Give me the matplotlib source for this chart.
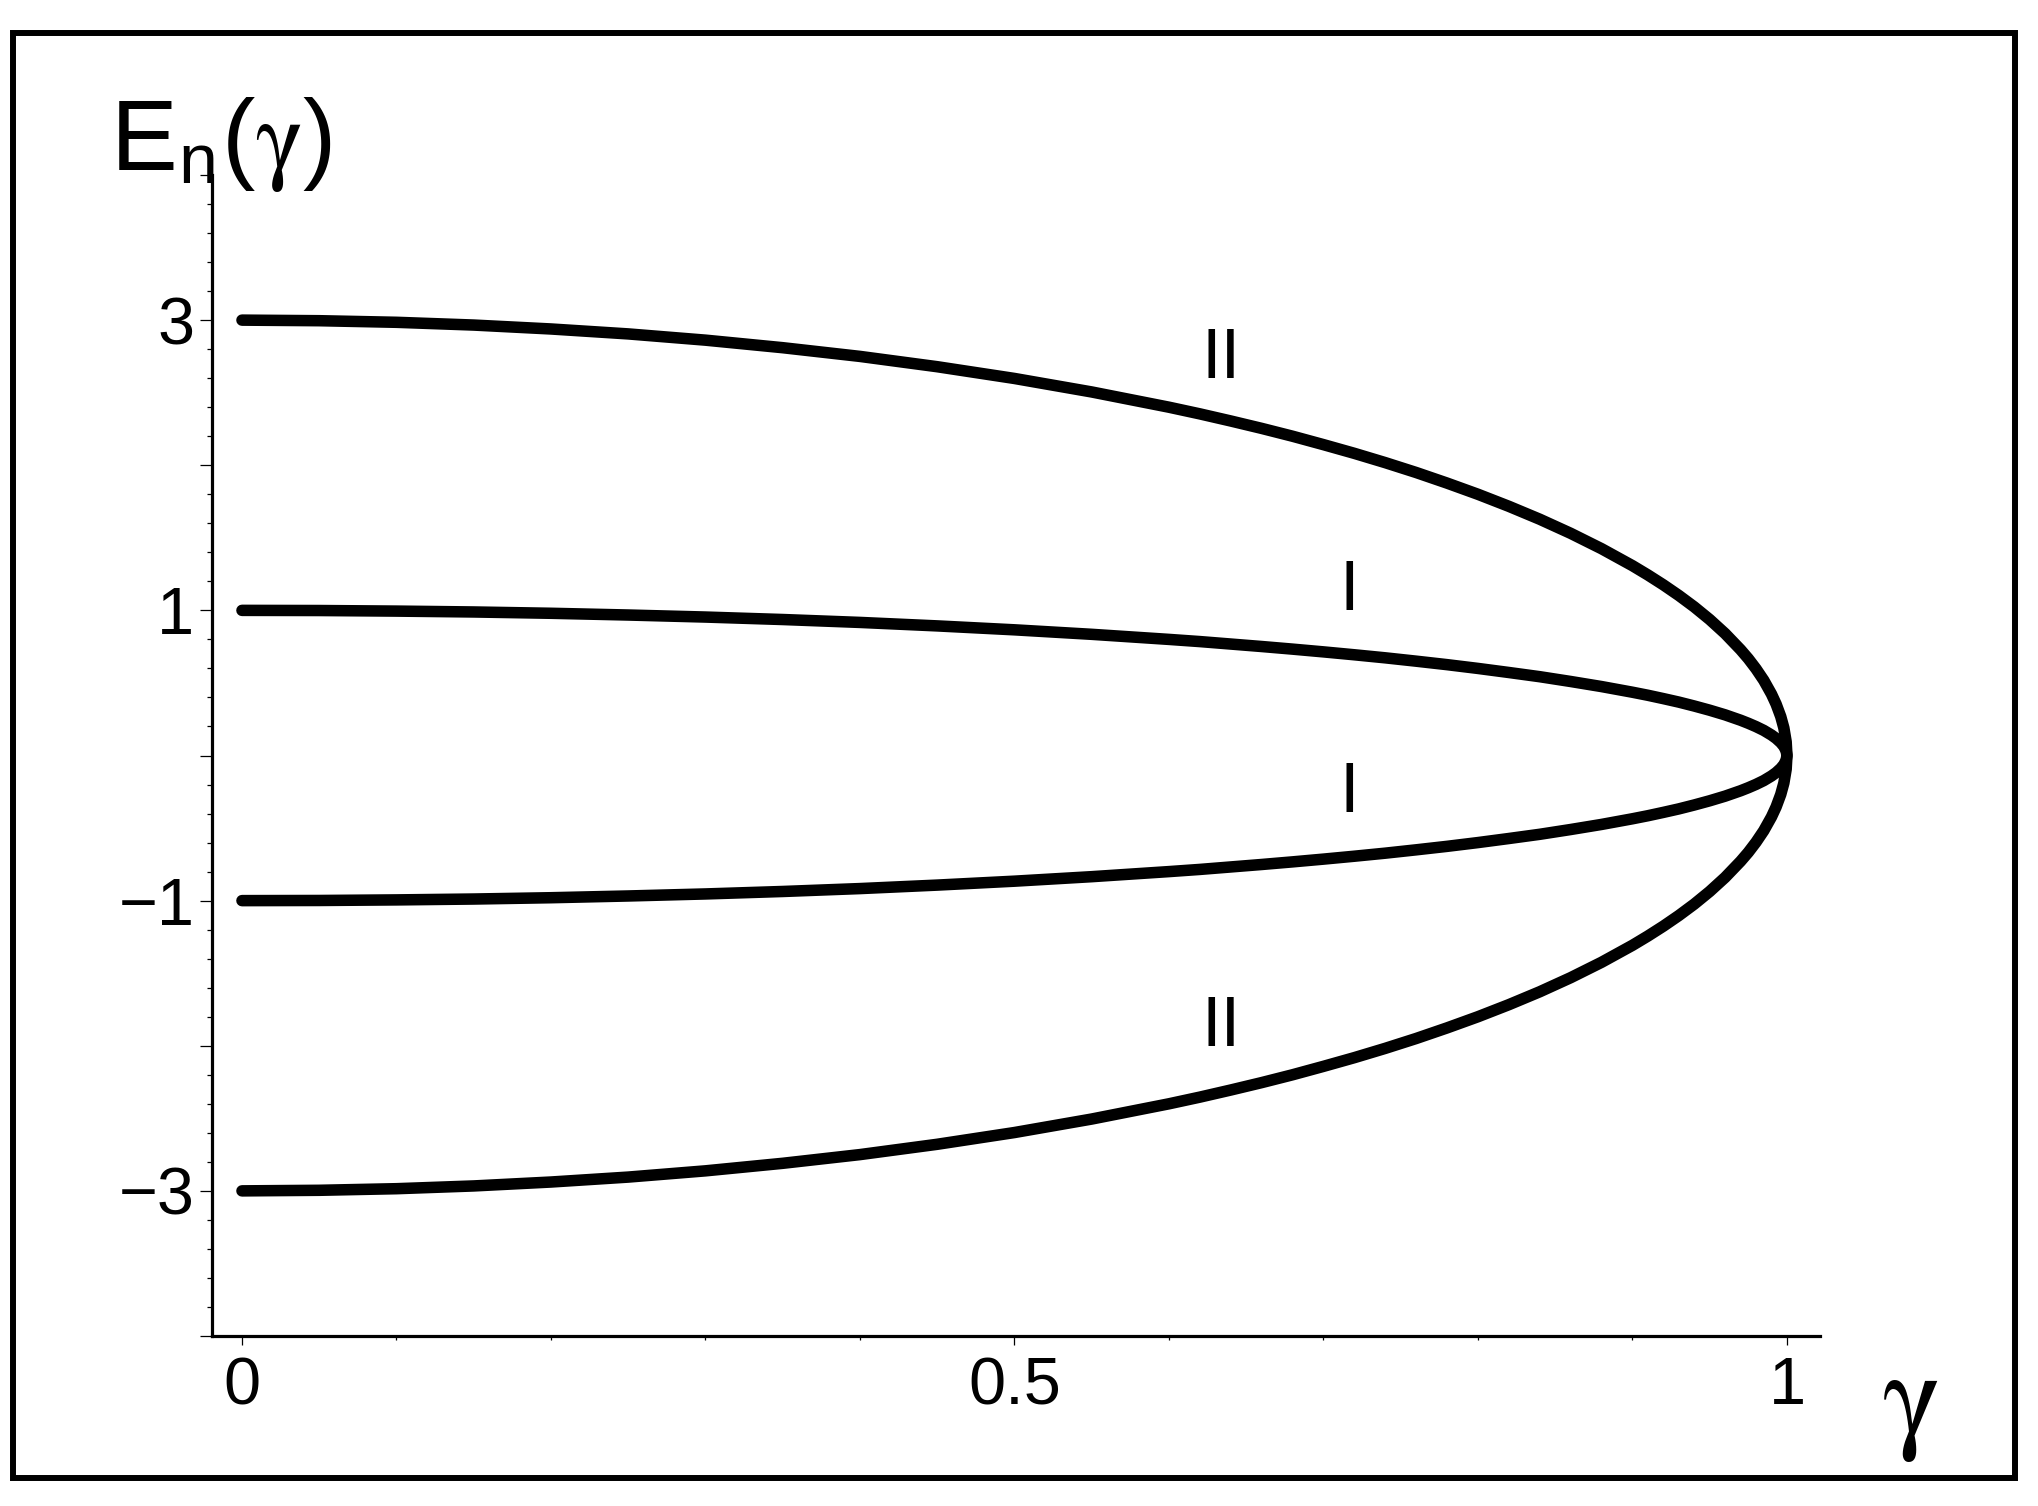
import matplotlib
matplotlib.use("Agg")
import matplotlib.pyplot as plt
from matplotlib.patches import Rectangle
from matplotlib.ticker import FixedLocator

plt.rcParams["mathtext.fontset"] = "custom"
plt.rcParams["mathtext.rm"] = "Liberation Sans"
plt.rcParams["mathtext.it"] = "STIXGeneral"
plt.rcParams["mathtext.bf"] = "Liberation Sans:bold"

# ---- data ----
gamma = [0.0, 0.05, 0.1, 0.15, 0.2, 0.25, 0.3, 0.35, 0.4, 0.45, 0.5, 0.55,
         0.6, 0.62, 0.64, 0.66, 0.68, 0.7, 0.72, 0.74, 0.76, 0.78, 0.8,
         0.82, 0.84, 0.86, 0.88, 0.9, 0.91, 0.92, 0.93, 0.94, 0.95, 0.96,
         0.97, 0.975, 0.98, 0.985, 0.99, 0.993, 0.996, 0.998, 0.9995, 1.0]
E_II_upper = [3.000, 2.996, 2.985, 2.966, 2.939, 2.905, 2.862, 2.810, 2.750,
              2.679, 2.598, 2.505, 2.400, 2.354, 2.305, 2.254, 2.200, 2.142,
              2.082, 2.018, 1.950, 1.877, 1.800, 1.717, 1.628, 1.531, 1.425,
              1.308, 1.244, 1.176, 1.103, 1.024, 0.937, 0.840, 0.729, 0.667,
              0.597, 0.518, 0.423, 0.354, 0.268, 0.190, 0.095, 0.0]
E_II_lower = [-3.000, -2.996, -2.985, -2.966, -2.939, -2.905, -2.862, -2.810, -2.750,
              -2.679, -2.598, -2.505, -2.400, -2.354, -2.305, -2.254, -2.200, -2.142,
              -2.082, -2.018, -1.950, -1.877, -1.800, -1.717, -1.628, -1.531, -1.425,
              -1.308, -1.244, -1.176, -1.103, -1.024, -0.937, -0.840, -0.729, -0.667,
              -0.597, -0.518, -0.423, -0.354, -0.268, -0.190, -0.095, 0.0]
E_I_upper = [1.000, 0.999, 0.995, 0.989, 0.980, 0.968, 0.954, 0.937, 0.917,
             0.893, 0.866, 0.835, 0.800, 0.785, 0.768, 0.751, 0.733, 0.714,
             0.694, 0.673, 0.650, 0.626, 0.600, 0.572, 0.543, 0.510, 0.475,
             0.436, 0.415, 0.392, 0.368, 0.341, 0.312, 0.280, 0.243, 0.222,
             0.199, 0.173, 0.141, 0.118, 0.089, 0.063, 0.032, 0.0]
E_I_lower = [-1.000, -0.999, -0.995, -0.989, -0.980, -0.968, -0.954, -0.937, -0.917,
             -0.893, -0.866, -0.835, -0.800, -0.785, -0.768, -0.751, -0.733, -0.714,
             -0.694, -0.673, -0.650, -0.626, -0.600, -0.572, -0.543, -0.510, -0.475,
             -0.436, -0.415, -0.392, -0.368, -0.341, -0.312, -0.280, -0.243, -0.222,
             -0.199, -0.173, -0.141, -0.118, -0.089, -0.063, -0.032, 0.0]

x_major = [0, 0.5, 1]
x_major_labels = ["0", "0.5", "1"]
x_minor = [0.1, 0.2, 0.3, 0.4, 0.6, 0.7, 0.8, 0.9]
y_major = [-4, -3, -2, -1, 0, 1, 2, 3, 4]
y_major_labels = ["", "\u22123", "", "\u22121", "", "1", "", "3", ""]
y_minor = [v / 5 for v in range(-20, 21) if v % 5 != 0]

curve_labels = [("II", 0.634, 2.60), ("I", 0.7165, 1.003),
                ("I", 0.7165, -0.389), ("II", 0.634, -2.001)]

y_title = r"E$_\mathrm{n}$($\gamma$)"
x_title = "\u03b3"

# ---- figure ----
W, H = 2038, 1506
fig = plt.figure(figsize=(W / 100, H / 100), dpi=100)
fig.patch.set_facecolor("white")

ax = fig.add_axes([212 / W, 1 - 1336 / H, (1820 - 212) / W, (1336 - 175) / H])
ax.set_xlim(-0.0194, 1.0214)
ax.set_ylim(-4, 4)
for s in ("top", "right"):
    ax.spines[s].set_visible(False)
for s in ("left", "bottom"):
    ax.spines[s].set_linewidth(2.3)
    ax.spines[s].set_capstyle("projecting")

sans = "Liberation Sans"
greek = "STIXGeneral"

ax.xaxis.set_major_locator(FixedLocator(x_major))
ax.xaxis.set_minor_locator(FixedLocator(x_minor))
ax.set_xticklabels(x_major_labels, fontfamily=sans, fontsize=48)
ax.yaxis.set_major_locator(FixedLocator(y_major))
ax.yaxis.set_minor_locator(FixedLocator(y_minor))
ax.set_yticklabels(y_major_labels, fontfamily=sans, fontsize=48)

ax.tick_params(axis="x", which="major", length=6.5, width=0.9, pad=8, direction="out")
ax.tick_params(axis="x", which="minor", length=3.0, width=0.9, direction="out")
ax.tick_params(axis="y", which="major", length=8.6, width=0.9, pad=4, direction="out")
ax.tick_params(axis="y", which="minor", length=3.6, width=0.9, direction="out")

for up, lo in ((E_II_upper, E_II_lower), (E_I_upper, E_I_lower)):
    xs = gamma + gamma[-2::-1]
    ys = up + lo[-2::-1]
    ax.plot(xs, ys, color="black", lw=8.3, solid_capstyle="round",
            solid_joinstyle="round", clip_on=False)

for txt, gx, gy in curve_labels:
    ax.text(gx, gy, txt, fontfamily=sans, fontsize=51, ha="center", va="baseline")

def ftext(px, py, s, **kw):
    fig.text(px / W, 1 - py / H, s, va="baseline", ha="left", **kw)

# y-axis title E_n(gamma), one text object
ftext(110, 170, y_title, fontfamily=sans, fontsize=72)

# x-axis title
ftext(1883, 1436, x_title, fontfamily=greek, fontsize=88)

# outer frame
fig.add_artist(Rectangle((13 / W, 1 - 1478 / H), (2015 - 13) / W, (1478 - 32.5) / H,
                         transform=fig.transFigure, fill=False, lw=4.3,
                         edgecolor="black", joinstyle="miter"))

fig.savefig("out.png", dpi=100, facecolor="white")
